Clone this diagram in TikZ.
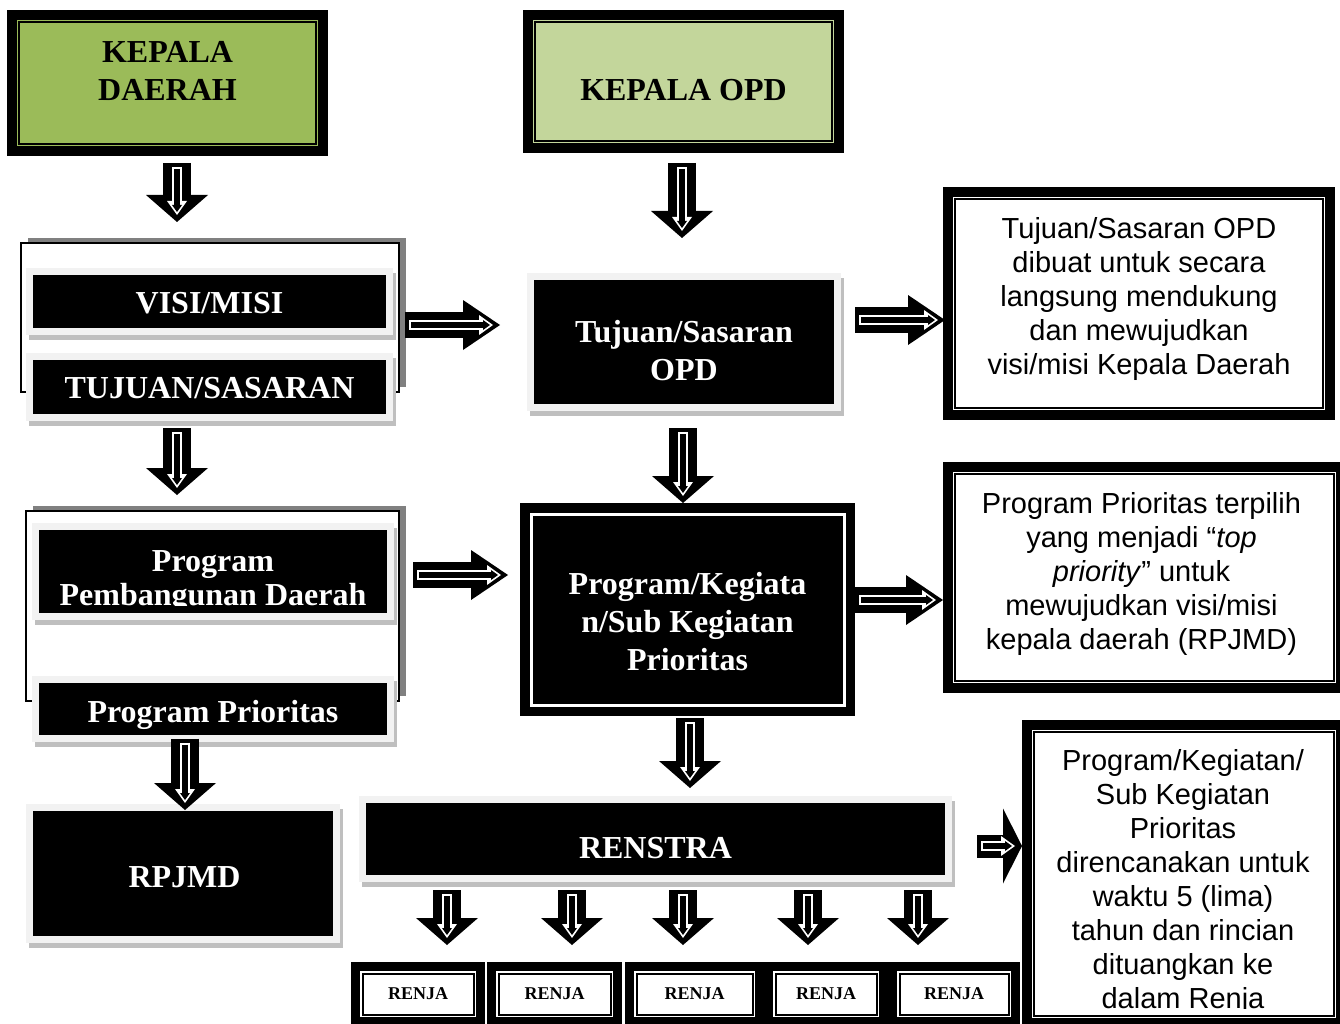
\documentclass[tikz,border=0pt]{standalone}
\usepackage{fontspec}
\setmainfont{Liberation Serif}
\newfontfamily\arialfont{Liberation Sans}
\usetikzlibrary{arrows.meta,calc,positioning,shadows}

\definecolor{hijau}{HTML}{9BBB59}
\definecolor{hijaumuda}{HTML}{C3D69B}
\definecolor{abumuda}{HTML}{F2F2F2}
\definecolor{abu}{HTML}{BFBFBF}
\definecolor{abutua}{HTML}{808080}

\newcommand{\blkarrow}[5]{%
  \draw[line width=#1pt,-{Triangle[width=#2pt,length=#3pt,line width=0pt]}] #4 -- #5;
  \draw[white,line width=10pt,-{Triangle[width=20pt,length=14pt,line width=0pt]},shorten <=4pt,shorten >=7pt] #4 -- #5;
  \draw[line width=6pt,-{Triangle[width=10pt,length=7pt,line width=0pt]},shorten <=6pt,shorten >=10pt] #4 -- #5;
}

\begin{document}
\begin{tikzpicture}[x=1pt,y=-1pt,
  greenbox/.style={draw,line width=10pt,fill=#1,outer sep=0pt,inner sep=0pt},
  dframe/.style={draw,line width=10pt,fill=white,outer sep=0pt,inner sep=0pt},
  pkbox/.style={draw,line width=10pt,fill=black,outer sep=0pt,inner sep=0pt},
  blackbox/.style={draw=abumuda,line width=7pt,fill=black,outer sep=0pt,inner sep=0pt,
    drop shadow={shadow xshift=3pt,shadow yshift=-5pt,fill=abu,draw=abu,line width=7pt,opacity=1}},
  groupbox/.style={draw,line width=2pt,fill=white,outer sep=0pt,inner sep=0pt,
    drop shadow={shadow xshift=7pt,shadow yshift=5pt,fill=abutua,opacity=1}},
  renja/.style={draw,line width=9pt,fill=white,outer sep=0pt,inner sep=0pt,minimum height=55pt,
    font=\bfseries\fontsize{18}{20}\selectfont},
  judul/.style={font=\bfseries\fontsize{32}{38}\selectfont,align=center,inner sep=0pt},
  wjudul/.style={judul,text=white},
  ket/.style={font=\arialfont\fontsize{29}{34}\selectfont,align=center,inner sep=0pt}]
\useasboundingbox (0,0) rectangle (1340,1024);

\node[greenbox=hijau,minimum width=311pt,minimum height=136pt] (kd) at (167.5,83) {};
\node[judul] (kdt) at ([shift={(0,-12)}]kd.center) {KEPALA\\DAERAH};
\node[greenbox=hijaumuda,minimum width=311pt,minimum height=133pt] (kopd) at (683.5,81.5) {};
\node[judul] (kopdt) at ([shift={(0,8.5)}]kopd.center) {KEPALA OPD};

\node[groupbox,minimum width=378pt,minimum height=149pt] (g1) at (210,317.5) {};
\node[blackbox,minimum width=360pt,minimum height=60pt] (vm) at (209.5,301.5) {};
\node[wjudul] (vmt) at ([shift={(0,1.5)}]vm.center) {VISI/MISI};
\node[blackbox,minimum width=360pt,minimum height=61pt] (ts) at (209.5,387) {};
\node[wjudul] (tst) at ([shift={(0,1)}]ts.center) {TUJUAN/SASARAN};

\node[blackbox,minimum width=307pt,minimum height=131pt] (tsopd) at (684,342) {};
\node[wjudul] (tsopdt) at ([shift={(0,8.5)}]tsopd.center) {Tujuan/Sasaran\\OPD};

\node[dframe,minimum width=382pt,minimum height=223pt] (rb1) at (1139,303.5) {};
\node[ket] (rb1t) at ([shift={(0,-4.5)}]rb1.center) {Tujuan/Sasaran OPD\\dibuat untuk secara\\langsung mendukung\\dan mewujudkan\\visi/misi Kepala Daerah};

\node[groupbox,minimum width=373pt,minimum height=190pt] (g2) at (212.5,606) {};
\node[blackbox,minimum width=355pt,minimum height=90pt] (ppd) at (213,571.5) {};
\begin{scope}
  \clip ([shift={(4,4)}]ppd.north west) rectangle ([shift={(-4,-11.5)}]ppd.south east);
  \node[wjudul,anchor=north,font=\bfseries\fontsize{32}{34}\selectfont] (ppdt) at ([shift={(0,-21.5)}]ppd.center) {Program\\Pembangunan Daerah};
\end{scope}
\node[blackbox,minimum width=355pt,minimum height=59pt] (pp) at (213,709) {};
\node[wjudul] (ppt) at ([shift={(0,5.5)}]pp.center) {Program Prioritas};

\node[pkbox,minimum width=325pt,minimum height=203pt] (pk) at (687.5,609.5) {};
\draw[white,line width=3pt] ([shift={(6,6)}]pk.north west) rectangle ([shift={(-6,-6)}]pk.south east);
\node[wjudul] (pkt) at ([shift={(0,12.5)}]pk.center) {Program/Kegiata\\n/Sub Kegiatan\\Prioritas};

\node[dframe,minimum width=393pt,minimum height=221pt] (rb2) at (1144.5,577.5) {};
\node[ket] (rb2t) at ([shift={(-3,-3.5)}]rb2.center) {Program Prioritas terpilih\\yang menjadi “\textit{top}\\\textit{priority}” untuk\\mewujudkan visi/misi\\kepala daerah (RPJMD)};

\node[blackbox,minimum width=307pt,minimum height=132pt] (rp) at (183,873.5) {};
\node[wjudul] (rpt) at ([shift={(1.5,3.5)}]rp.center) {RPJMD};

\node[blackbox,minimum width=586pt,minimum height=79pt] (rs) at (655.5,839) {};
\node[wjudul] (rst) at ([shift={(0,9)}]rs.center) {RENSTRA};

\node[renja,minimum width=125pt] (rj1) at (418,994) {RENJA};
\node[renja,minimum width=126pt,right=11pt of rj1] (rj2) {RENJA};
\node[renja,minimum width=130pt,right=12pt of rj2] (rj3) {RENJA};
\node[renja,minimum width=115pt,right=9pt of rj3] (rj4) {RENJA};
\node[renja,minimum width=123pt,right=9pt of rj4] (rj5) {RENJA};

\node[dframe,minimum width=314pt,minimum height=298pt] (rb3) at (1184,874) {};
\begin{scope}
  \clip ([shift={(8,8)}]rb3.north west) rectangle ([shift={(-8,-15)}]rb3.south east);
  \node[ket,anchor=north] (rb3t) at ([shift={(-1,-125)}]rb3.center) {Program/Kegiatan/\\Sub Kegiatan\\Prioritas\\direncanakan untuk\\waktu 5 (lima)\\tahun dan rincian\\dituangkan ke\\dalam Renja};
\end{scope}

\foreach \n in {kd,kopd,rb1,rb2,rb3,rj1,rj2,rj3,rj4,rj5}
  \draw[line width=2pt] ([shift={(7,7)}]\n.north west) rectangle ([shift={(-7,-7)}]\n.south east);

\blkarrow{28}{62}{27}{([shift={(9.5,12)}]kd.south)}{([shift={(-33,-21)}]g1.north)}
\blkarrow{28}{62}{27}{([shift={(-1.5,15)}]kopd.south)}{([shift={(-2,-38.5)}]tsopd.north)}
\blkarrow{26}{50}{37}{([shift={(6,7.5)}]g1.east)}{([shift={(-30.5,-17)}]tsopd.west)}
\blkarrow{26}{50}{37}{([shift={(17.5,-22)}]tsopd.east)}{([shift={(-3,16.5)}]rb1.west)}
\blkarrow{28}{62}{27}{([shift={(-32.5,10.5)}]ts.south)}{([shift={(-35.5,-16)}]g2.north)}
\blkarrow{28}{62}{27}{([shift={(-1,20.5)}]tsopd.south)}{([shift={(-4.5,-5)}]pk.north)}
\blkarrow{26}{50}{37}{([shift={(14,-31)}]g2.east)}{([shift={(-17,-34.5)}]pk.west)}
\blkarrow{26}{50}{37}{([shift={(5,-9.5)}]pk.east)}{([shift={(-5,22.5)}]rb2.west)}
\blkarrow{28}{62}{27}{([shift={(2.5,7)}]pk.south)}{([shift={(34.5,-11.5)}]rs.north)}
\blkarrow{28}{62}{27}{([shift={(-28,0)}]pp.south)}{([shift={(2,2.5)}]rp.north)}
\foreach \dx/\c in {-208.5/1,-83.5/2,27.5/3,152.5/4,262.5/5}{
  \coordinate (s\c) at ([shift={(\dx,11.5)}]rs.south);
  \blkarrow{28}{62}{27}{(s\c)}{($(s\c |- rj\c.north)+(0,-21.5)$)}
}
\blkarrow{23}{75}{19}{([shift={(28.5,7)}]rs.east)}{([shift={(-5,-28)}]rb3.west)}
\end{tikzpicture}
\end{document}
